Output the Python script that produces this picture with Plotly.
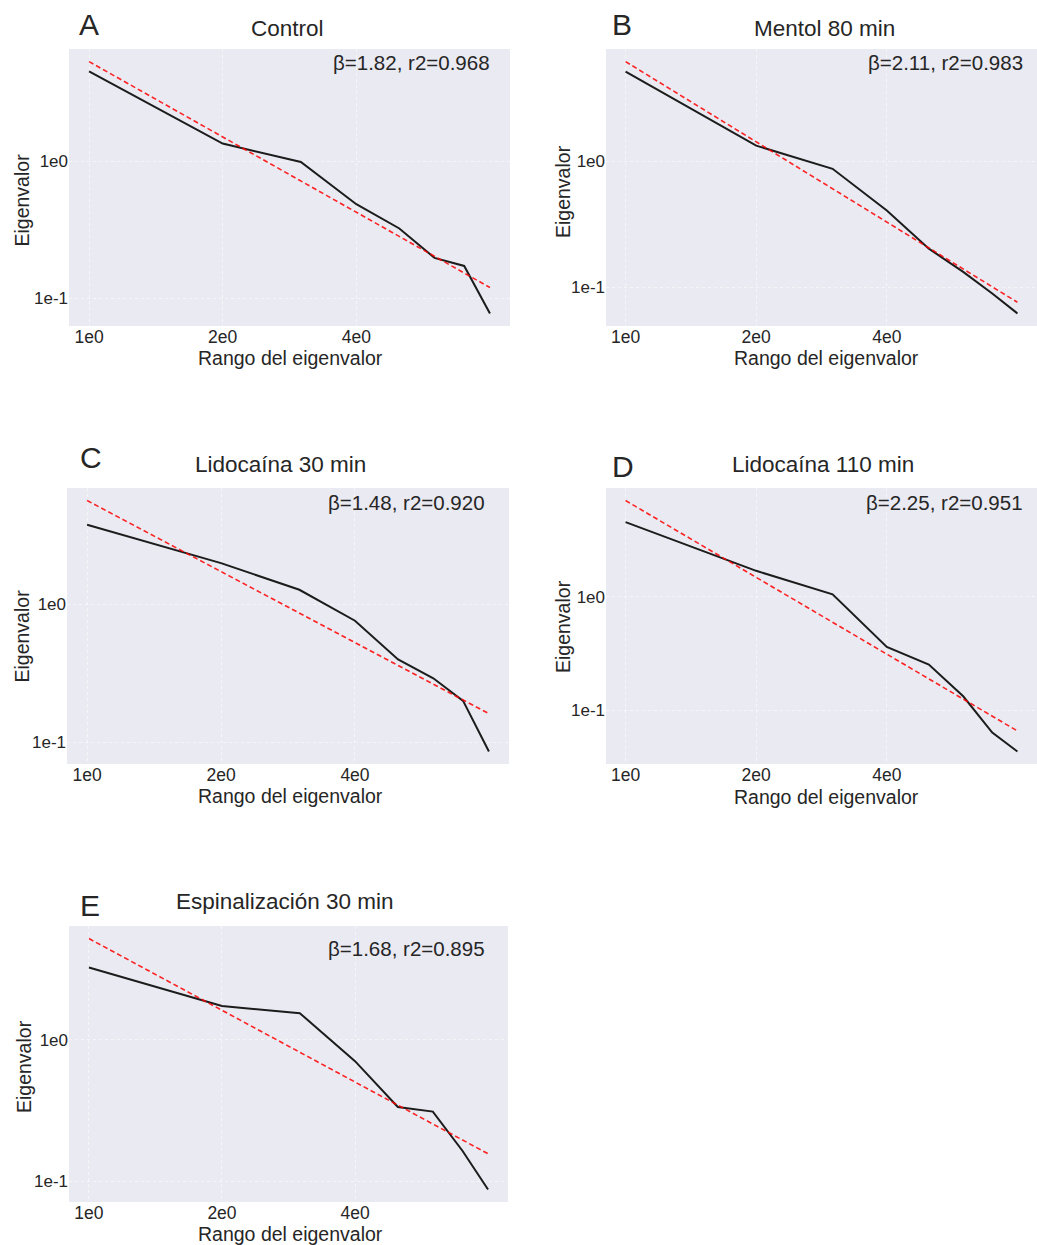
import numpy as np
import plotly.graph_objects as go

# ---------------- data ----------------
ranks = [1, 2, 3, 4, 5, 6, 7, 8]
panel_letters = ["A", "B", "C", "D", "E"]
panel_titles = ["Control", "Mentol 80 min", "Lidocaína 30 min",
                "Lidocaína 110 min", "Espinalización 30 min"]

eig_control = [4.56, 1.35, 0.99, 0.486, 0.323, 0.197, 0.172, 0.0773]
eig_mentol_80 = [5.13, 1.33, 0.871, 0.408, 0.203, 0.133, 0.0898, 0.0624]
eig_lido_30 = [3.76, 1.98, 1.27, 0.758, 0.397, 0.290, 0.199, 0.0855]
eig_lido_110 = [4.53, 1.69, 1.05, 0.361, 0.253, 0.133, 0.0638, 0.0435]
eig_espinal_30 = [3.24, 1.73, 1.54, 0.705, 0.334, 0.310, 0.164, 0.0873]
eigen_series = [eig_control, eig_mentol_80, eig_lido_30, eig_lido_110, eig_espinal_30]

# power-law fit lines as drawn: y = amplitude * rank^(-exponent)
fit_amplitude = [5.37, 6.15, 5.63, 7.02, 5.19]
fit_exponent = [1.83, 2.11, 1.71, 2.245, 1.685]

beta_text = ["1.82", "2.11", "1.48", "2.25", "1.68"]
r2_text = ["0.968", "0.983", "0.920", "0.951", "0.895"]

x_tickvals = [1, 2, 4]
x_ticktext = ["1e0", "2e0", "4e0"]
y_tickvals = [0.1, 1]
y_ticktext = ["1e-1", "1e0"]

# ---------------- layout helpers ----------------
W, H = 1037, 1245
FONT = "Liberation Sans, Arial, Helvetica, sans-serif"
TXT = "#262626"

# plot-area boxes in pixels: (left, right, top, bottom)
boxes = [(69, 510, 49, 326), (606, 1037, 49, 326),
         (67, 509, 488, 764), (606, 1037, 488, 764),
         (69, 508, 926, 1202)]
letter_pos = [(77, 24), (610, 24), (78, 457), (610, 467), (78, 905.5)]
title_pos = [(287, 28.5), (824.5, 28.5), (280, 464.5), (823, 464.5), (285, 901)]
beta_pos = [(492, 62.5), (1024.5, 62.5), (487, 502.7), (1024.5, 502.7), (486.5, 948.3)]
xlabel_pos = [(290, 358), (826, 358), (290, 796), (826, 797), (290, 1234)]
ylabel_pos = [(21.5, 200), (563, 192), (21.5, 636), (563, 627), (24, 1067)]

def px(x):
    return x / W

def py(y):
    return 1 - y / H

fig = go.Figure()
annotations = []
GRID = "rgba(255,255,255,0.55)"

for i in range(5):
    n = i + 1
    xa = "x" if n == 1 else f"x{n}"
    ya = "y" if n == 1 else f"y{n}"
    left, right, top, bottom = boxes[i]
    series = eigen_series[i]
    fit_vals = [fit_amplitude[i] * r ** (-fit_exponent[i]) for r in ranks]

    fig.add_trace(go.Scatter(x=ranks, y=series, mode="lines",
                             line=dict(color="#1c1c1c", width=2),
                             xaxis=xa, yaxis=ya, showlegend=False))
    fig.add_trace(go.Scatter(x=ranks, y=fit_vals, mode="lines",
                             line=dict(color="rgba(255,0,0,0.85)", width=1.6, dash="5px,3px"),
                             xaxis=xa, yaxis=ya, showlegend=False))

    # matplotlib-like 5 % margins in log space
    lx = np.log10(ranks)
    xr = lx.max() - lx.min()
    ally = np.log10(np.concatenate([series, fit_vals]))
    yr = ally.max() - ally.min()

    xkey = "xaxis" if n == 1 else f"xaxis{n}"
    ykey = "yaxis" if n == 1 else f"yaxis{n}"
    fig.update_layout({
        xkey: dict(domain=[px(left), px(right)], anchor=ya, type="log",
                   range=[lx.min() - 0.05 * xr, lx.max() + 0.05 * xr],
                   tickvals=x_tickvals, ticktext=x_ticktext,
                   showgrid=True, gridcolor=GRID, griddash="dot",
                   gridwidth=1, zeroline=False, showline=False, ticks="",
                   ticklabelstandoff=-2,
                   tickfont=dict(family=FONT, size=17.5, color=TXT)),
        ykey: dict(domain=[py(bottom), py(top)], anchor=xa, type="log",
                   range=[ally.min() - 0.05 * yr, ally.max() + 0.05 * yr],
                   tickvals=y_tickvals, ticktext=y_ticktext,
                   showgrid=True, gridcolor=GRID, griddash="dot",
                   gridwidth=1, zeroline=False, showline=False, ticks="",
                   ticklabelstandoff=0,
                   tickfont=dict(family=FONT, size=17, color=TXT)),
    })

    # background of plot area
    fig.add_shape(type="rect", xref=f"{xa} domain", yref=f"{ya} domain",
                  x0=0, x1=1, y0=0, y1=1, fillcolor="#EAEAF2",
                  line=dict(width=0), layer="below")

    annotations.append(dict(text=panel_letters[i], x=px(letter_pos[i][0]), y=py(letter_pos[i][1]),
                            xref="paper", yref="paper", xanchor="left", yanchor="middle",
                            showarrow=False, font=dict(family=FONT, size=30, color=TXT)))
    annotations.append(dict(text=panel_titles[i], x=px(title_pos[i][0]), y=py(title_pos[i][1]),
                            xref="paper", yref="paper", xanchor="center", yanchor="middle",
                            showarrow=False, font=dict(family=FONT, size=22.5, color=TXT)))
    annotations.append(dict(text=f"β={beta_text[i]}, r2={r2_text[i]}",
                            x=px(beta_pos[i][0]), y=py(beta_pos[i][1]),
                            xref="paper", yref="paper", xanchor="right", yanchor="middle",
                            showarrow=False, font=dict(family=FONT, size=20.5, color=TXT)))
    annotations.append(dict(text="Rango del eigenvalor", x=px(xlabel_pos[i][0]), y=py(xlabel_pos[i][1]),
                            xref="paper", yref="paper", xanchor="center", yanchor="middle",
                            showarrow=False, font=dict(family=FONT, size=19.5, color=TXT)))
    annotations.append(dict(text="Eigenvalor", x=px(ylabel_pos[i][0]), y=py(ylabel_pos[i][1]),
                            xref="paper", yref="paper", xanchor="center", yanchor="middle",
                            textangle=-90, showarrow=False,
                            font=dict(family=FONT, size=19.5, color=TXT)))

fig.update_layout(width=W, height=H, margin=dict(l=0, r=0, t=0, b=0),
                  paper_bgcolor="white", plot_bgcolor="rgba(0,0,0,0)",
                  annotations=annotations, showlegend=False)

fig.write_html("out.html", config={"displayModeBar": False})
